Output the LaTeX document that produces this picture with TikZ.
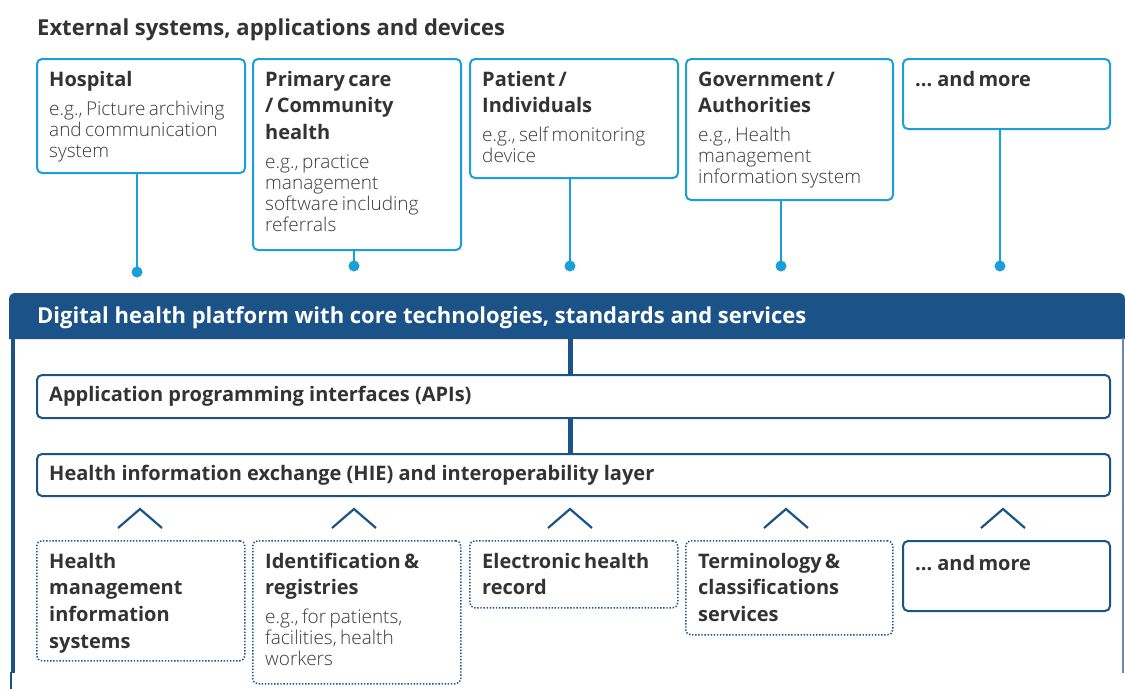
\documentclass[tikz,border=0pt]{standalone}
\usepackage{fontspec}
\setmainfont{Open Sans}
\IfFontExistsTF{Open Sans Light}{\newfontfamily\lightf{Open Sans Light}}{\newfontfamily\lightf{Open Sans}}
\IfFontExistsTF{Open Sans SemiBold}{\newfontfamily\semif{Open Sans SemiBold}}{\newfontfamily\semif{Open Sans Bold}}
\definecolor{cyanb}{HTML}{1A9FD8}
\definecolor{navy}{HTML}{1B5388}
\definecolor{txt}{HTML}{333333}
\definecolor{txtl}{HTML}{3A3A3A}
\definecolor{rim}{HTML}{6A88AE}
\newcommand\ttlfont{\fontsize{20}{26.7}\selectfont\semif\color{txt}}
\newcommand\bdyfont{\fontsize{19}{21}\selectfont\lightf\color{txtl}}
\newcommand\boxtext[2]{{\ttlfont\rule{0pt}{16pt}#1\par}\vspace{8pt}{\bdyfont #2\par}}
\newcommand\boxtitle[1]{{\ttlfont\rule{0pt}{16pt}#1\par}}
\tikzset{
  extbox/.style={draw=cyanb, line width=2pt, rounded corners=5pt, anchor=north west, inner sep=0pt, fill=white},
  intbox/.style={draw=navy, line width=2pt, rounded corners=5pt, anchor=north west, inner sep=0pt, fill=white},
  dotbox/.style={draw=navy, line width=1.5pt, dash pattern=on 1.4pt off 1.7pt, rounded corners=5pt, anchor=north west, inner sep=0pt},
  lbl/.style={anchor=north west, inner sep=0pt, text width=196pt, align=left},
  link/.style={draw=cyanb, line width=2pt},
  dotend/.style={circle, fill=cyanb, inner sep=0pt, minimum size=11pt},
  chev/.style={draw=navy, line width=2.2pt},
  spine/.style={draw=navy, line width=5pt},
  heading/.style={anchor=base west, inner sep=0pt, font=\fontsize{22}{26}\selectfont\semif},
  barlbl/.style={anchor=base west, inner sep=0pt, font=\fontsize{20}{24}\selectfont\semif, text=txt},
}
\begin{document}
\begin{tikzpicture}[x=1pt, y=-1pt]
\useasboundingbox (0,0) rectangle (1125,689);
\fill[white] (0,0) rectangle (1125,689);

% heading
\node[heading, text=txt] (head) at (37,35) {External systems, applications and devices};

% external boxes
\node[extbox, minimum width=208pt, minimum height=114pt] (hosp) at (36,58) {};
\node[extbox, minimum width=208pt, minimum height=191pt] (prim) at (252,58) {};
\node[extbox, minimum width=208pt, minimum height=119pt] (pat) at (469,58) {};
\node[extbox, minimum width=207pt, minimum height=141pt] (gov) at (685,58) {};
\node[extbox, minimum width=207pt, minimum height=70pt] (more1) at (902,58) {};

\node[lbl] (hospt) at ([shift={(13,12)}]hosp.north west) {\boxtext{Hospital}{e.g., Picture archiving\\and communication\\system}};
\node[lbl] (primt) at ([shift={(13,12)}]prim.north west) {\boxtext{Primary care\\/ Community\\health}{e.g., practice\\management\\software including\\referrals}};
\node[lbl] (patt) at ([shift={(13,12)}]pat.north west) {\boxtext{Patient /\\Individuals}{e.g., self monitoring\\device}};
\node[lbl] (govt) at ([shift={(13,12)}]gov.north west) {\boxtext{Government /\\Authorities}{e.g., Health\\management\\information system}};
\node[lbl] (more1t) at ([shift={(13,12)}]more1.north west) {\boxtitle{... and more}};

% connectors with dots
\node[dotend] (d1) at (137,272) {};
\node[dotend] (d2) at (354,266) {};
\node[dotend] (d3) at (570,266) {};
\node[dotend] (d4) at (781,266) {};
\node[dotend] (d5) at (1000,266) {};
\draw[link] (hosp.south -| d1) -- (d1.center);
\draw[link] (prim.south -| d2) -- (d2.center);
\draw[link] (pat.south -| d3) -- (d3.center);
\draw[link] (gov.south -| d4) -- (d4.center);
\draw[link] (more1.south -| d5) -- (d5.center);

% platform frame
\fill[navy, rounded corners=6pt] (9,339) |- (1125,293) [sharp corners] -- (1125,339) -- cycle;
\draw[navy, line width=4pt] (13,338) -- (13,673);
\draw[navy, line width=1.2pt] (11,672) -- (11,689);
\draw[rim, line width=1.3pt] (1123,338) -- (1123,673);
\node[heading, text=white] (plat) at (37,323) {Digital health platform with core technologies, standards and services};
\coordinate (hb) at (570,338);

% layers
\node[intbox, minimum width=1073pt, minimum height=43pt] (api) at (36,374) {};
\node[intbox, minimum width=1073pt, minimum height=42pt] (hie) at (36,453) {};
\node[barlbl] (apit) at (49,401) {Application programming interfaces (APIs)};
\node[barlbl] (hiet) at (49,480) {Health information exchange (HIE) and interoperability layer};
\draw[spine] (hb) -- (api.north -| hb);
\draw[spine] (api.south -| hb) -- (hie.north -| hb);

% chevrons
\foreach \cx in {140,354,570,786,1003}{
  \draw[chev] (\cx-22,528) -- (\cx,509) -- (\cx+22,528);
}

% core components
\node[dotbox, minimum width=208pt, minimum height=120pt] (hmis) at (36,540) {};
\node[dotbox, minimum width=208pt, minimum height=143pt] (ident) at (252,540) {};
\node[dotbox, minimum width=208pt, minimum height=67pt] (ehr) at (469,540) {};
\node[dotbox, minimum width=207pt, minimum height=94pt] (term) at (685,540) {};
\node[intbox, minimum width=207pt, minimum height=70pt] (more2) at (902,540) {};

\node[lbl] (hmist) at ([shift={(13,12)}]hmis.north west) {\boxtitle{Health\\management\\information\\systems}};
\node[lbl] (identt) at ([shift={(13,12)}]ident.north west) {\boxtext{Identification \&\\registries}{e.g., for patients,\\facilities, health\\workers}};
\node[lbl] (ehrt) at ([shift={(13,12)}]ehr.north west) {\boxtitle{Electronic health\\record}};
\node[lbl] (termt) at ([shift={(13,12)}]term.north west) {\boxtitle{Terminology \&\\classifications\\services}};
\node[lbl] (more2t) at ([shift={(13,14)}]more2.north west) {\boxtitle{... and more}};
\end{tikzpicture}
\end{document}
